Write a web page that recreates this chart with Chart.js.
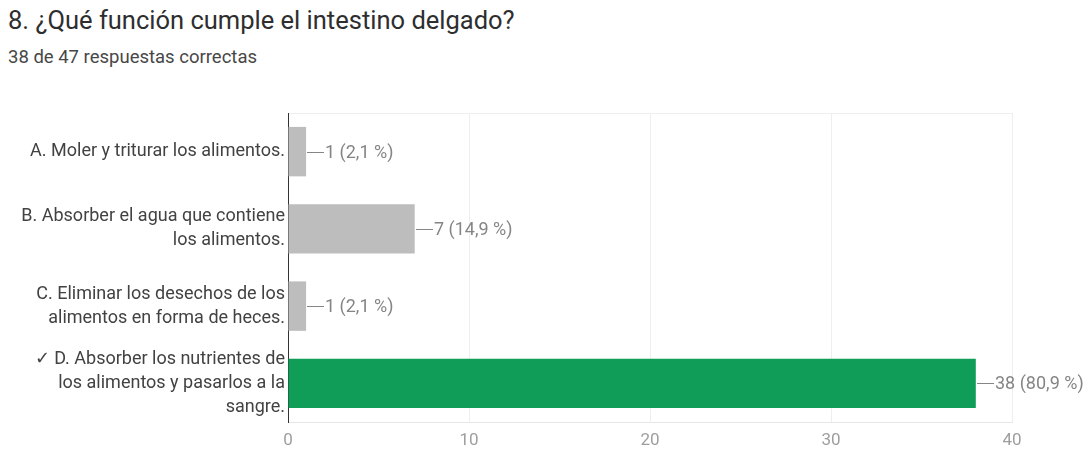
<!DOCTYPE html>
<html lang="es">
<head>
<meta charset="utf-8">
<title>Intestino delgado</title>
<script src="https://cdn.jsdelivr.net/npm/chart.js@4.4.1/dist/chart.umd.min.js"></script>
<style>
  html, body { margin: 0; padding: 0; background: #fff; }
  body { width: 1086px; height: 449px; position: relative; overflow: hidden; font-family: Roboto, Arial, sans-serif; }
  #titulo { position: absolute; left: 8px; top: 7px; font-size: 25.5px; line-height: 26px; color: #2e2e2e; white-space: nowrap; }
  #resumen { position: absolute; left: 8px; top: 48px; font-size: 18.5px; line-height: 19px; color: #474747; white-space: nowrap; }
  #grafico { position: absolute; left: 0; top: 0; }
</style>
</head>
<body>
<div id="titulo">8. ¿Qué función cumple el intestino delgado?</div>
<div id="resumen">38 de 47 respuestas correctas</div>
<canvas id="grafico" width="1086" height="449"></canvas>

<script>
// --- DATI ---
const respuestas = [
    ['A. Moler y triturar los alimentos.'],
    ['B. Absorber el agua que contiene', 'los alimentos.'],
    ['C. Eliminar los desechos de los', 'alimentos en forma de heces.'],
    ['\u2713 D. Absorber los nutrientes de', 'los alimentos y pasarlos a la', 'sangre.']
];
const votos = [1, 7, 1, 38];
const esCorrecta = [false, false, false, true];
const totalRespuestas = 47;
const ejeMin = 0;
const ejeMax = 40;

const grisBarra = '#bdbdbd';
const verdeBarra = '#0f9d58';
const grisTexto = '#858585';
const fuente = 'Roboto, Arial, sans-serif';

function etiquetaValor(v) {
    const pct = (v / totalRespuestas * 100).toFixed(1).replace('.', ',');
    return `${v} (${pct} %)`;
}

// etichette "—n (x %)" a destra di ogni barra
const etichetteBarre = {
    id: 'etichetteBarre',
    afterDatasetsDraw(chart) {
        const ctx = chart.ctx;
        const meta = chart.getDatasetMeta(0);
        ctx.save();
        ctx.font = `18px ${fuente}`;
        ctx.fillStyle = grisTexto;
        ctx.strokeStyle = grisTexto;
        ctx.lineWidth = 1;
        ctx.textBaseline = 'middle';
        meta.data.forEach((bar, i) => {
            const x = Math.round(bar.x);
            const y = Math.round(bar.y) + 0.5;
            ctx.beginPath();
            ctx.moveTo(x + 1, y);
            ctx.lineTo(x + 18, y);
            ctx.stroke();
            ctx.fillText(etiquetaValor(votos[i]), x + 19, y + 1);
        });
        ctx.restore();
    }
};

new Chart(document.getElementById('grafico'), {
    type: 'bar',
    data: {
        labels: respuestas,
        datasets: [{
            data: votos,
            backgroundColor: esCorrecta.map(c => c ? verdeBarra : grisBarra),
            barPercentage: 0.64,
            categoryPercentage: 1
        }]
    },
    options: {
        indexAxis: 'y',
        responsive: false,
        animation: false,
        layout: { padding: { top: 113, right: 74, left: 0, bottom: 0 } },
        plugins: {
            legend: { display: false },
            tooltip: { enabled: false }
        },
        scales: {
            x: {
                min: ejeMin,
                max: ejeMax,
                afterFit: s => { s.height = 27; },
                grid: {
                    color: '#eeeeee',
                    drawTicks: false
                },
                border: { display: true, color: '#e6e6e6' },
                ticks: {
                    stepSize: 5,
                    padding: 9,
                    color: '#9e9e9e',
                    font: { size: 17, family: fuente },
                    callback: v => (v % 10 === 0 ? v : null)
                }
            },
            // solo il bordo superiore dell'area del grafico
            xTop: {
                position: 'top',
                min: ejeMin,
                max: ejeMax,
                afterFit: s => { s.height = 0; },
                grid: { display: false, drawTicks: false },
                border: { display: true, color: '#eeeeee' },
                ticks: { display: false }
            },
            y: {
                afterFit: s => { s.width = 288; },
                grid: { display: false, drawTicks: false },
                border: { display: true, color: '#333333', width: 1 },
                ticks: {
                    padding: 3,
                    color: '#424242',
                    font: { size: 18, lineHeight: 1.33, family: fuente }
                }
            }
        }
    },
    plugins: [etichetteBarre]
});
</script>
</body>
</html>
